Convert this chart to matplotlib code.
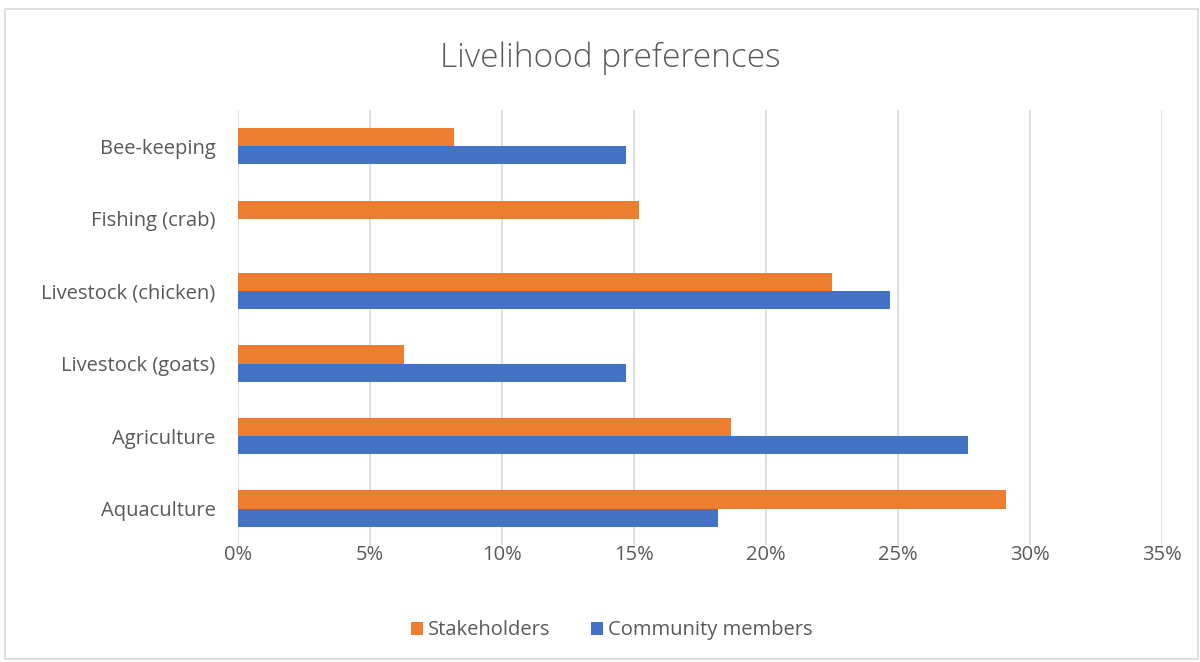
import numpy as np
import matplotlib.pyplot as plt
from matplotlib.patches import Rectangle

categories = ["Aquaculture", "Agriculture", "Livestock (goats)",
              "Livestock (chicken)", "Fishing (crab)", "Bee-keeping"]
stakeholders = [29.1, 18.7, 6.3, 22.5, 15.2, 8.2]
community = [18.2, 27.65, 14.7, 24.7, 0.0, 14.7]
xticks = [0, 5, 10, 15, 20, 25, 30, 35]

plt.rcParams['font.family'] = ['Open Sans', 'DejaVu Sans']
txt = '#595959'

fig = plt.figure(figsize=(12, 6.62), dpi=100)
fig.patches.append(Rectangle((0.004, 0.004), 0.994, 0.982, transform=fig.transFigure,
                             fill=False, edgecolor='#D9D9D9', linewidth=1.2))
ax = fig.add_axes([0.198, 0.177, 0.77, 0.657])

y = np.arange(len(categories))
h = 0.25
ax.barh(y + h / 2, stakeholders, height=h, color='#ED7D31', label='Stakeholders', zorder=3)
ax.barh(y - h / 2, community, height=h, color='#4472C4', label='Community members', zorder=3)

ax.set_xlim(0, 35)
ax.set_ylim(-0.5, 5.5)
ax.set_xticks(xticks)
ax.set_xticklabels([f"{t}%" for t in xticks], fontsize=14.5, color=txt)
ax.set_yticks(y)
ax.set_yticklabels(categories, fontsize=14.5, color=txt)
ax.tick_params(axis='both', length=0)
ax.tick_params(axis='x', pad=0)
ax.tick_params(axis='y', pad=16)
ax.grid(axis='x', color='#D9D9D9', linewidth=1.2, zorder=0)
for s in ax.spines.values():
    s.set_visible(False)

fig.text(0.509, 0.912, "Livelihood preferences", ha='center', va='center',
         fontsize=24, color=txt, fontweight='light')

leg = fig.legend(loc='center', bbox_to_anchor=(0.51, 0.048), ncol=2, frameon=False,
                 fontsize=14.5, handlelength=0.6, handleheight=0.6, handletextpad=0.25,
                 columnspacing=2.0)
for t in leg.get_texts():
    t.set_color(txt)

fig.savefig("out.png", dpi=100)
